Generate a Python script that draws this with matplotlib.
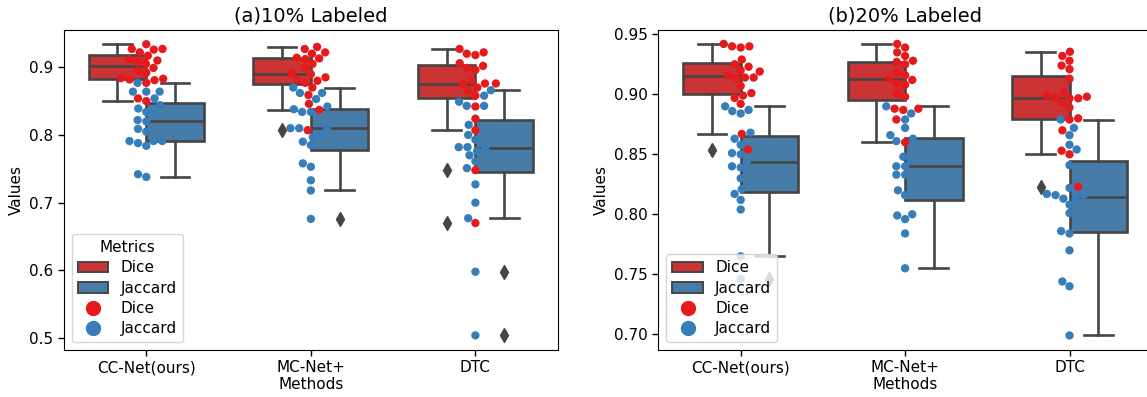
import colorsys
import numpy as np
import pandas as pd
import matplotlib
matplotlib.use("Agg")
import matplotlib.pyplot as plt
from matplotlib.patches import Patch
from matplotlib.lines import Line2D
import seaborn as sns

methods = ["CC-Net(ours)", "MC-Net+", "DTC"]
metrics = ["Dice", "Jaccard"]
titles = ["(a)10% Labeled", "(b)20% Labeled"]

# ---- 10% labeled ----
cc10_dice = [0.934, 0.927, 0.927, 0.926, 0.922, 0.917, 0.912, 0.910, 0.908, 0.905,
             0.899, 0.895, 0.892, 0.884, 0.883, 0.882, 0.881, 0.877, 0.854, 0.850]
cc10_jac = [0.877, 0.864, 0.864, 0.864, 0.854, 0.844, 0.839, 0.834, 0.834, 0.822,
            0.820, 0.809, 0.805, 0.791, 0.791, 0.791, 0.788, 0.784, 0.742, 0.738]
mc10_dice = [0.930, 0.927, 0.922, 0.920, 0.914, 0.913, 0.912, 0.905, 0.899, 0.890,
             0.885, 0.882, 0.880, 0.877, 0.870, 0.859, 0.846, 0.837, 0.807, 0.891]
mc10_jac = [0.870, 0.862, 0.862, 0.853, 0.842, 0.838, 0.834, 0.834, 0.810, 0.810,
            0.810, 0.801, 0.797, 0.790, 0.785, 0.758, 0.753, 0.733, 0.718, 0.676]
dtc10_dice = [0.927, 0.922, 0.920, 0.918, 0.906, 0.902, 0.899, 0.896, 0.880, 0.876,
              0.876, 0.875, 0.870, 0.865, 0.858, 0.842, 0.824, 0.807, 0.748, 0.670]
dtc10_jac = [0.866, 0.858, 0.849, 0.843, 0.843, 0.815, 0.800, 0.793, 0.782, 0.782,
             0.780, 0.776, 0.770, 0.761, 0.751, 0.727, 0.700, 0.677, 0.598, 0.504]

# ---- 20% labeled ----
cc20_dice = [0.942, 0.940, 0.940, 0.939, 0.929, 0.925, 0.923, 0.920, 0.919, 0.916,
             0.914, 0.914, 0.913, 0.907, 0.901, 0.899, 0.897, 0.892, 0.867, 0.854]
cc20_jac = [0.890, 0.887, 0.886, 0.884, 0.868, 0.863, 0.858, 0.851, 0.850, 0.844,
            0.840, 0.839, 0.830, 0.821, 0.817, 0.812, 0.804, 0.765, 0.746]
mc20_dice = [0.942, 0.939, 0.935, 0.932, 0.928, 0.927, 0.925, 0.918, 0.916, 0.913,
             0.912, 0.909, 0.908, 0.901, 0.898, 0.888, 0.888, 0.887, 0.879, 0.860]
mc20_jac = [0.890, 0.884, 0.879, 0.872, 0.866, 0.863, 0.861, 0.848, 0.845, 0.840,
            0.840, 0.833, 0.833, 0.820, 0.816, 0.800, 0.799, 0.796, 0.784, 0.755]
dtc20_dice = [0.9355, 0.932, 0.928, 0.924, 0.921, 0.913, 0.902, 0.899, 0.898, 0.8975,
              0.8967, 0.8967, 0.893, 0.889, 0.880, 0.879, 0.870, 0.853, 0.850, 0.823]
dtc20_jac = [0.879, 0.872, 0.866, 0.858, 0.854, 0.841, 0.822, 0.817, 0.816, 0.816,
             0.813, 0.813, 0.808, 0.801, 0.786, 0.784, 0.770, 0.744, 0.740, 0.699]

panels = [
    {"CC-Net(ours)": (cc10_dice, cc10_jac), "MC-Net+": (mc10_dice, mc10_jac), "DTC": (dtc10_dice, dtc10_jac)},
    {"CC-Net(ours)": (cc20_dice, cc20_jac), "MC-Net+": (mc20_dice, mc20_jac), "DTC": (dtc20_dice, dtc20_jac)},
]
ylims = [(0.4824, 0.955), (0.6869, 0.9536)]
yticks = [[0.5, 0.6, 0.7, 0.8, 0.9], [0.70, 0.75, 0.80, 0.85, 0.90, 0.95]]
yfmt = ["{:.1f}", "{:.2f}"]


def desat(c, prop=0.75):
    h, l, s = colorsys.rgb_to_hls(*c)
    return colorsys.hls_to_rgb(h, l, s * prop)


red = (0.894, 0.102, 0.110)
blue = (0.216, 0.494, 0.722)
red_box = desat(red)
blue_box = desat(blue)
gray = (0.27, 0.27, 0.27)
LW = 1.9
FS = 11

fig = plt.figure(figsize=(11.47, 3.97), dpi=100)
axes = [fig.add_axes([0.0558, 0.1184, 0.4304, 0.806]),
        fig.add_axes([0.5741, 0.1184, 0.4300, 0.806])]

for k, ax in enumerate(axes):
    data = panels[k]
    rows = []
    for i, m in enumerate(methods):
        d, j = data[m]
        for v in d:
            rows.append((m, "Dice", v))
        for v in j:
            rows.append((m, "Jaccard", v))
        for vals, off, col in ((d, -0.175, red_box), (j, 0.175, blue_box)):
            ax.boxplot([vals], positions=[i + off], widths=0.35, patch_artist=True,
                       boxprops=dict(facecolor=col, edgecolor=gray, linewidth=LW),
                       medianprops=dict(color=gray, linewidth=LW),
                       whiskerprops=dict(color=gray, linewidth=LW),
                       capprops=dict(color=gray, linewidth=LW),
                       flierprops=dict(marker="d", markerfacecolor=gray, markeredgecolor=gray,
                                       markersize=7),
                       zorder=2, manage_ticks=False)
    df = pd.DataFrame(rows, columns=["Methods", "Metrics", "Values"])
    sns.swarmplot(data=df, x="Methods", y="Values", hue="Metrics", order=methods,
                  hue_order=metrics, palette=[red, blue], size=6, ax=ax,
                  legend=False, zorder=3, linewidth=0)
    ax.set_xlim(-0.5, 2.5)
    ax.set_ylim(*ylims[k])
    ax.set_xticks(range(len(methods)))
    ax.set_xticklabels(methods, fontsize=FS)
    ax.set_yticks(yticks[k])
    ax.set_yticklabels([yfmt[k].format(t) for t in yticks[k]], fontsize=FS)
    ax.tick_params(length=4.5, width=1.0, pad=3)
    ax.set_xlabel("Methods", fontsize=FS, labelpad=1)
    ax.set_ylabel("Values", fontsize=FS)
    ax.set_title(titles[k], fontsize=14)
    handles = [Patch(facecolor=red_box, edgecolor=gray, linewidth=1.4, label="Dice"),
               Patch(facecolor=blue_box, edgecolor=gray, linewidth=1.4, label="Jaccard"),
               Line2D([], [], marker="o", linestyle="", markersize=10, color=red, label="Dice"),
               Line2D([], [], marker="o", linestyle="", markersize=10, color=blue, label="Jaccard")]
    ax.legend(handles=handles, loc="lower left", fontsize=FS,
              title="Metrics" if k == 0 else None, title_fontsize=FS,
              borderaxespad=0.5, handletextpad=0.8, labelspacing=0.35)

fig.savefig("out.png", dpi=100)
